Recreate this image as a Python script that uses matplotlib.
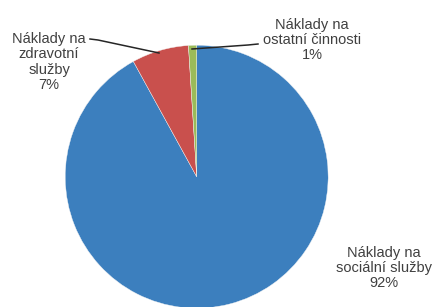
import matplotlib
matplotlib.use("Agg")
import matplotlib.pyplot as plt

categories = ["Náklady na sociální služby", "Náklady na zdravotní služby", "Náklady na ostatní činnosti"]
label_texts = ["Náklady na\nsociální služby", "Náklady na\nzdravotní\nslužby", "Náklady na\nostatní činnosti"]
values = [92, 7, 1]
colors = ["#3C7FBE", "#C9504D", "#9BBB59"]

W, H = 436, 307
fig = plt.figure(figsize=(W / 100, H / 100), dpi=100)
ax = fig.add_axes([0, 0, 1, 1])

cx, cy, r = 196.7, H - 176.7, 131.5
ax.pie(values, colors=colors, startangle=90, counterclock=False,
       center=(cx, cy), radius=r, wedgeprops=dict(linewidth=0.3, edgecolor="#f4f4f4"))
ax.set_xlim(0, W)
ax.set_ylim(0, H)
ax.set_aspect("auto")
ax.axis("off")

font = dict(family=["Liberation Sans", "DejaVu Sans"], fontsize=10.5, color="#404040",
            ha="center", va="center", multialignment="center", linespacing=1.12)

pcts = [f"{v}%" for v in values]
ax.text(384, H - 268, label_texts[0] + "\n" + pcts[0], **font)
ax.text(49, H - 62, label_texts[1] + "\n" + pcts[1], **font)
ax.text(312, H - 40, label_texts[2] + "\n" + pcts[2], **font)

# leader lines
ax.plot([90, 98, 159], [H - 39, H - 40, H - 53], color="#262626", lw=1.1)
ax.plot([192, 248, 258], [H - 49, H - 45, H - 44], color="#262626", lw=1.1)

fig.savefig("out.png", dpi=100, facecolor="white")
